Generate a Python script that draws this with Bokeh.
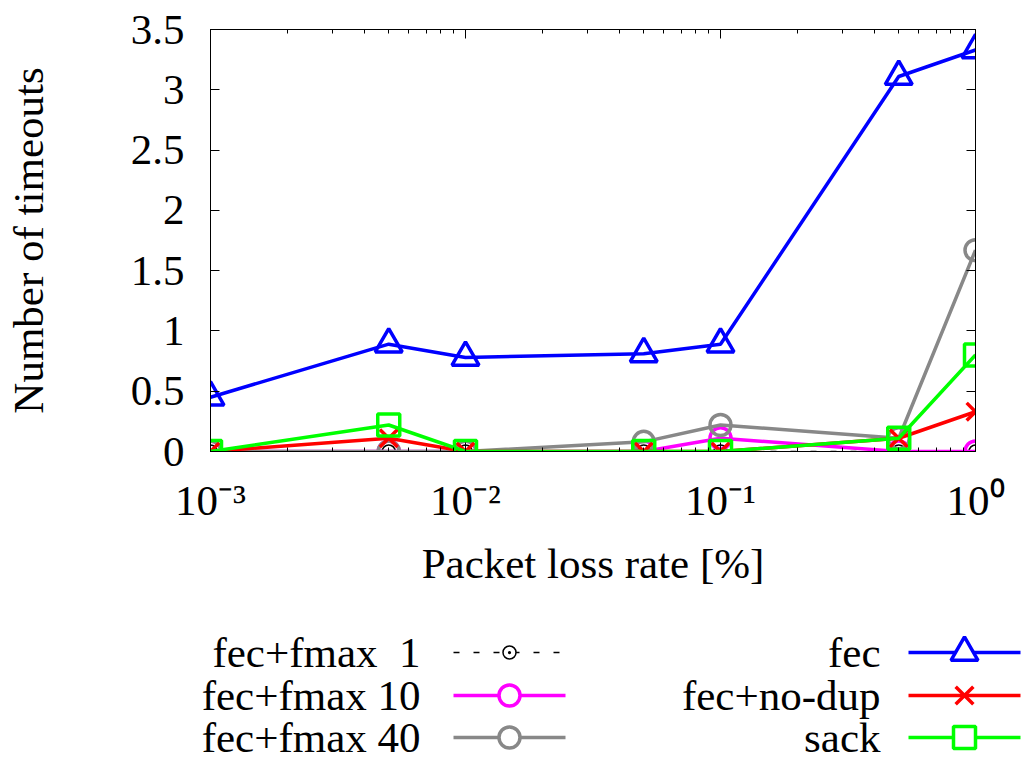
from bokeh.plotting import figure
from bokeh.models import (LogAxis, LinearAxis, FixedTicker, LogTicker, Range1d,
                          CustomJSTickFormatter)
from bokeh.layouts import column
from bokeh.embed import file_html
from bokeh.resources import INLINE
from bokeh.core.properties import value

FONT = "Liberation Serif"
FS = "43px"

# ---- data ----
loss_rate = [0.001, 0.005, 0.01, 0.05, 0.1, 0.5, 1.0]
fec_fmax1 = [0, 0, 0, 0, 0, 0, 0]
fec_fmax10 = [0, 0, 0, 0, 0.11, 0, 0]
fec_fmax40 = [0, 0, 0, 0.08, 0.22, 0.11, 1.67]
fec = [0.45, 0.89, 0.78, 0.81, 0.89, 3.11, 3.33]
fec_nodup = [0, 0.11, 0, 0, 0, 0.11, 0.33]
sack = [0, 0.22, 0, 0, 0, 0.11, 0.8]

y_ticks = [0, 0.5, 1, 1.5, 2, 2.5, 3, 3.5]
y_tick_labels = ["0", "0.5", "1", "1.5", "2", "2.5", "3", "3.5"]
x_tick_exps = [-3, -2, -1, 0]
x_tick_labels = ["10\u207b\u00b3", "10\u207b\u00b2", "10\u207b\u00b9", "10\u2070"]

x_label = "Packet loss rate [%]"
y_label = "Number of timeouts"

series = [
    ("fec+fmax \u00a01", fec_fmax1, "black", "circle_dot"),
    ("fec+fmax 10", fec_fmax10, "#ff00ff", "circle"),
    ("fec+fmax 40", fec_fmax40, "#888888", "circle"),
    ("fec", fec, "#0000ff", "triangle"),
    ("fec+no-dup", fec_nodup, "#ff0000", "x"),
    ("sack", sack, "#00ff00", "square"),
]
marker_size = {"circle_dot": 13, "circle": 21, "triangle": 27, "x": 25, "square": 22}
LW = 3.5

# ---- main plot ----
p = figure(width=1022, height=598, x_axis_type="log",
           x_range=Range1d(0.001, 1.0), y_range=Range1d(0, 3.5),
           output_backend="svg", toolbar_location=None,
           min_border_left=210, min_border_right=47,
           min_border_top=29, min_border_bottom=147)
p.grid.visible = False
p.outline_line_color = "black"
p.outline_line_width = 1
p.background_fill_color = "white"
p.border_fill_color = "white"

hidden = dict(major_label_text_font_size="2px", major_label_text_alpha=0.0,
              major_label_standoff=0)

xa = p.xaxis[0]
xa.ticker = LogTicker(num_minor_ticks=10)
xa.formatter = CustomJSTickFormatter(
    args=dict(exps=x_tick_exps, labels=x_tick_labels),
    code="const e = Math.round(Math.log10(tick)); const i = exps.indexOf(e); return i >= 0 ? labels[i] : '';")
xa.major_tick_in = 9
xa.major_tick_out = 0
xa.minor_tick_in = 4
xa.minor_tick_out = 0
xa.major_label_standoff = 25
xa.major_label_text_font = FONT
xa.major_label_text_font_size = FS
xa.major_label_text_color = "black"
xa.axis_line_color = "black"
xa.axis_label = x_label
xa.axis_label_standoff = 13
xa.axis_label_text_font = FONT
xa.axis_label_text_font_size = FS
xa.axis_label_text_font_style = "normal"
xa.axis_label_text_color = "black"

ya = p.yaxis[0]
ya.ticker = FixedTicker(ticks=y_ticks)
ya.major_label_overrides = {t: l for t, l in zip(y_ticks, y_tick_labels)}
ya.major_tick_in = 9
ya.major_tick_out = 0
ya.minor_tick_in = 0
ya.minor_tick_out = 0
ya.major_label_standoff = 26
ya.major_label_text_font = FONT
ya.major_label_text_font_size = FS
ya.major_label_text_color = "black"
ya.axis_line_color = "black"
ya.axis_label = y_label
ya.axis_label_standoff = 76
ya.axis_label_text_font = FONT
ya.axis_label_text_font_size = FS
ya.axis_label_text_font_style = "normal"
ya.axis_label_text_color = "black"

top = LogAxis(ticker=LogTicker(num_minor_ticks=10), major_tick_in=9, major_tick_out=0,
              minor_tick_in=4, minor_tick_out=0, axis_line_color="black", **hidden)
p.add_layout(top, "above")
right = LinearAxis(ticker=FixedTicker(ticks=y_ticks), major_tick_in=9, major_tick_out=0,
                   minor_tick_in=0, minor_tick_out=0, axis_line_color="black", **hidden)
p.add_layout(right, "right")

for name, ys, color, mk in series:
    if mk == "circle_dot":
        p.line(loss_rate, ys, line_color=color, line_width=1.5, line_dash="6 14")
        p.scatter(loss_rate, ys, marker=mk, size=marker_size[mk], fill_color=None,
                  line_color=color, line_width=1.5)
    else:
        p.line(loss_rate, ys, line_color=color, line_width=LW)
        p.scatter(loss_rate, ys, marker=mk, size=marker_size[mk], fill_color=None,
                  line_color=color, line_width=LW)

# ---- legend ----
leg = figure(width=1022, height=164, x_range=Range1d(0, 1022), y_range=Range1d(762, 598),
             output_backend="svg", toolbar_location=None, min_border=0,
             min_border_left=0, min_border_right=0, min_border_top=0, min_border_bottom=0)
leg.xaxis.visible = False
leg.yaxis.visible = False
leg.grid.visible = False
leg.outline_line_color = None
for fig in (p, leg):
    try:
        fig.frame_align = False
    except Exception:
        pass

col_text_x = [420, 880]
col_line = [(453, 565), (908, 1020)]
row_y = [652, 695, 737]
for i, (name, ys, color, mk) in enumerate(series):
    c, r = divmod(i, 3)
    yy = row_y[r]
    x0, x1 = col_line[c]
    leg.text(x=[col_text_x[c]], y=[yy], text=[name], text_align=value("right"),
             text_baseline=value("middle"), text_font=value(FONT),
             text_font_size=value(FS), text_color="black")
    if mk == "circle_dot":
        leg.line([x0, x1], [yy, yy], line_color=color, line_width=1.5, line_dash="6 14")
        leg.scatter([(x0 + x1) / 2], [yy], marker=mk, size=marker_size[mk],
                    fill_color="white", line_color=color, line_width=1.5)
    else:
        leg.line([x0, x1], [yy, yy], line_color=color, line_width=LW)
        leg.scatter([(x0 + x1) / 2], [yy], marker=mk, size=marker_size[mk],
                    fill_color="white" if mk != "x" else None, line_color=color, line_width=LW)

layout = column(p, leg, spacing=0)
open("out.html", "w").write(file_html(layout, INLINE))
